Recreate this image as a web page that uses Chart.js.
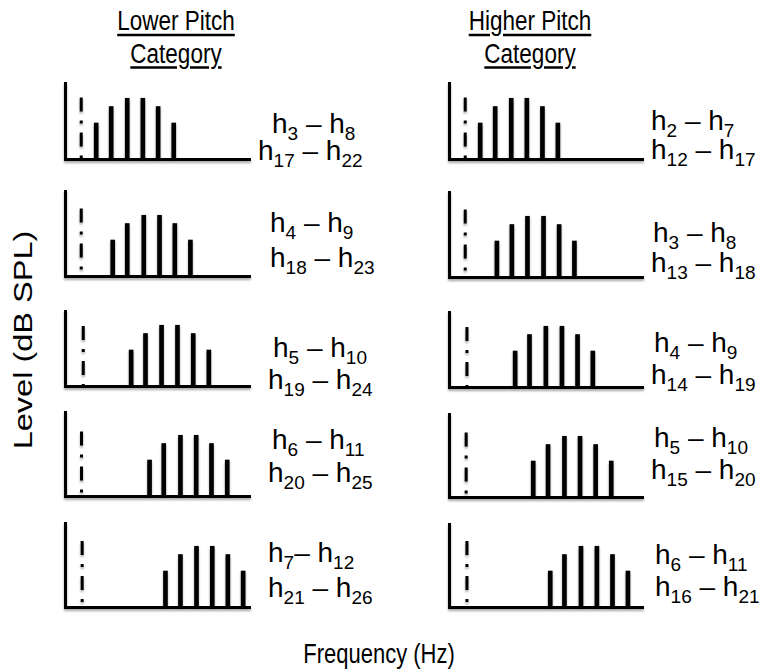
<!DOCTYPE html>
<html>
<head>
<meta charset="utf-8">
<script src="https://cdn.jsdelivr.net/npm/chart.js@4.4.1/dist/chart.umd.min.js"></script>
<style>
  body { margin:0; background:#fff; width:763px; height:669px; position:relative; overflow:hidden;
         font-family:"Liberation Sans", Arial, Helvetica, sans-serif; color:#000; }
  canvas { position:absolute; filter: drop-shadow(0px 2px 1.2px rgba(0,0,0,0.35)); }
  .head { position:absolute; width:240px; text-align:center; font-size:22.5px; line-height:25.6px;
          transform:scaleY(1.25); transform-origin:50% 0; }
  .head span { text-decoration:underline; text-underline-offset:3px; }
  .lab { position:absolute; white-space:nowrap; font-size:28px; line-height:1; }
  .lab sub { font-size:19px; vertical-align:baseline; position:relative; top:7px; }
  .axt { position:absolute; white-space:nowrap; line-height:1; }
</style>
</head>
<body>
<script>
// column headings
var columnTitles = [["Lower Pitch", "Category"], ["Higher Pitch", "Category"]];

// harmonic ranges written next to each panel (two lines per panel)
var lowerLine1 = ["h3 – h8", "h4 – h9", "h5 – h10", "h6 – h11", "h7– h12"];
var lowerLine2 = ["h17 – h22", "h18 – h23", "h19 – h24", "h20 – h25", "h21 – h26"];
var higherLine1 = ["h2 – h7", "h3 – h8", "h4 – h9", "h5 – h10", "h6 – h11"];
var higherLine2 = ["h12 – h17", "h13 – h18", "h14 – h19", "h15 – h20", "h16 – h21"];

// component frequencies (in multiples of the missing fundamental spacing)
var lowerBars = [
  [2.00, 2.96, 3.99, 4.99, 5.97, 6.97],
  [3.06, 3.99, 5.05, 6.06, 7.04, 8.04],
  [4.24, 5.16, 6.19, 7.21, 8.22, 9.22],
  [5.42, 6.33, 7.40, 8.41, 9.39, 10.40],
  [6.44, 7.40, 8.43, 9.44, 10.44, 11.42]
];
var higherBars = [
  [2.00, 2.96, 3.99, 4.99, 5.99, 6.98],
  [3.07, 4.03, 5.03, 6.06, 7.06, 8.04],
  [4.24, 5.16, 6.21, 7.24, 8.24, 9.22],
  [5.40, 6.35, 7.40, 8.40, 9.40, 10.40],
  [6.49, 7.40, 8.46, 9.48, 10.48, 11.47]
];
// component levels (dB) - same spectral shape in every panel
var barLevels = [24, 35, 40.5, 40.5, 35, 24];

// missing fundamental (dash-dot line): position and height
var lowerF0 = [1.04, 1.04, 1.17, 1.06, 1.10];
var higherF0 = [1.04, 1.04, 1.15, 1.10, 1.15];
var f0Level = [41, 45, 40, 43, 44];

// ---- layout ----
var H_PX = 15.6;   // px per harmonic step
var DB_PX = 1.5;   // px per dB
var PAD = 4, TOPPAD = 3;
var colAxisX = [65, 449];
var colAxisEnd = [250, 643];
var rowTop = [[83, 191, 311, 412, 523], [83, 192, 312, 414, 524]];
var rowBase = [[159, 276, 386, 496, 607], [159, 277, 387, 497, 607]];
var headCenter = [176, 530];
var labX = [
  [[272, 258], [270, 270], [273, 268], [272, 268], [268, 268]],
  [[651, 651], [653, 651], [654, 651], [654, 651], [655, 655]]
];
var labBase = [
  [[134, 161], [233, 268], [358, 390], [450, 483], [563, 598]],
  [[131, 160], [243, 273], [353, 385], [448, 480], [565, 597]]
];

function addText(cls, html, x, y) {
  var d = document.createElement("div");
  d.className = cls;
  d.innerHTML = html;
  d.style.left = x + "px";
  d.style.top = y + "px";
  document.body.appendChild(d);
  return d;
}

function subs(s) {
  return s.replace(/h(\d+)/g, "h<sub>$1</sub>");
}

function makePanel(col, row) {
  var bars = col == 0 ? lowerBars[row] : higherBars[row];
  var f0 = col == 0 ? lowerF0[row] : higherF0[row];
  var axisX = colAxisX[col], top = rowTop[col][row], base = rowBase[col][row];
  var w = colAxisEnd[col] - axisX, h = base - top;

  var cv = document.createElement("canvas");
  cv.width = w + PAD + 2;
  cv.height = h + PAD + TOPPAD;
  cv.style.left = (axisX - PAD) + "px";
  cv.style.top = (top - TOPPAD) + "px";
  document.body.appendChild(cv);

  var axisStyle = {
    grid: { display: false, drawTicks: false, tickLength: 0 },
    ticks: { display: false },
    border: { display: true, color: "#000", width: 3 }
  };

  new Chart(cv, {
    type: "bar",
    data: {
      datasets: [
        {
          type: "bar",
          data: bars.map(function (x, i) { return { x: x, y: barLevels[i] }; }),
          backgroundColor: "#000",
          borderWidth: 0,
          barThickness: 4
        },
        {
          type: "line",
          data: [{ x: f0, y: f0Level[row] }, { x: f0, y: 0 }],
          borderColor: "#000",
          borderWidth: 3,
          borderDash: [14, 9, 3, 9],
          borderCapStyle: "butt",
          pointRadius: 0,
          fill: false
        }
      ]
    },
    options: {
      responsive: false,
      animation: false,
      events: [],
      layout: { padding: { left: PAD, right: 2, top: TOPPAD, bottom: PAD } },
      plugins: { legend: { display: false }, tooltip: { enabled: false } },
      scales: {
        x: Object.assign({ type: "linear", min: 0, max: w / H_PX, offset: false }, axisStyle),
        y: Object.assign({ type: "linear", min: 0, max: h / DB_PX }, axisStyle)
      }
    }
  });

  var l1 = col == 0 ? lowerLine1[row] : higherLine1[row];
  var l2 = col == 0 ? lowerLine2[row] : higherLine2[row];
  // line-height 1 -> baseline sits about 0.85em below the box top
  addText("lab", subs(l1), labX[col][row][0], labBase[col][row][0] - 24);
  addText("lab", subs(l2), labX[col][row][1], labBase[col][row][1] - 24);
}

for (var c = 0; c < 2; c++) {
  addText("head", "<span>" + columnTitles[c][0] + "</span><br><span>" + columnTitles[c][1] + "</span>",
          headCenter[c] - 120, 5);
  for (var r = 0; r < 5; r++) makePanel(c, r);
}

var yl = addText("axt", "Level (dB SPL)", 23, 340);
yl.style.fontSize = "25px";
yl.style.transform = "translate(-50%, -50%) rotate(-90deg) scaleX(1.3)";
var xl = addText("axt", "Frequency (Hz)", 379, 640);
xl.style.fontSize = "22px";
xl.style.transformOrigin = "50% 0";
xl.style.transform = "translateX(-50%) scaleY(1.28)";
</script>
</body>
</html>
